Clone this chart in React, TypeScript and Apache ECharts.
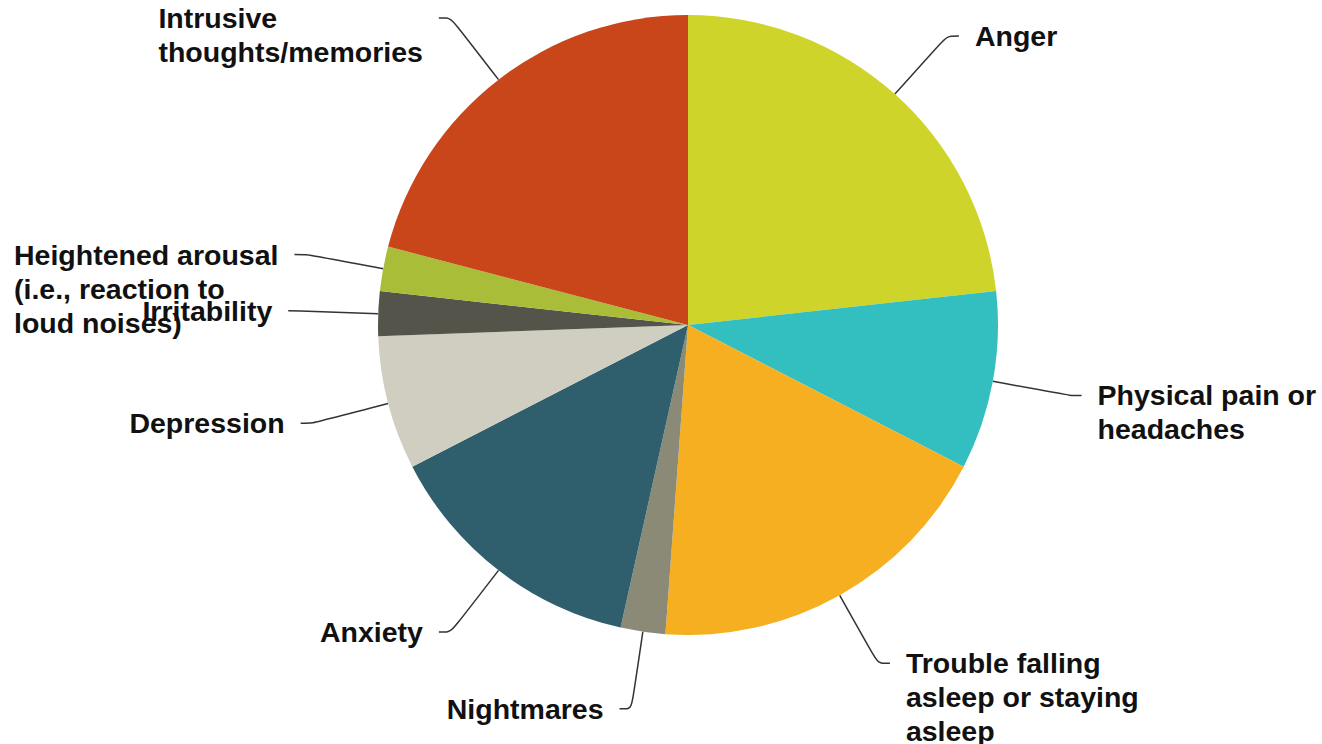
import React, { useEffect, useRef } from "react";
import * as echarts from "echarts";

const categories = [
  "Anger",
  "Physical pain or\nheadaches",
  "Trouble falling\nasleep or staying\nasleep",
  "Nightmares",
  "Anxiety",
  "Depression",
  "Irritability",
  "Heightened arousal\n(i.e., reaction to\nloud noises)",
  "Intrusive\nthoughts/memories",
];
const values = [10, 4, 8, 1, 6, 3, 1, 1, 9];
const colors = [
  "#CFD42A",
  "#33BEC0",
  "#F5AF20",
  "#8A8A77",
  "#2F5F6C",
  "#D0CEC0",
  "#55544A",
  "#A9BD38",
  "#C8461A",
];

const FONT = 28.5;
const LH = 34;

export default function App() {
  const ref = useRef<HTMLDivElement>(null);
  useEffect(() => {
    if (!ref.current) return;
    const chart = echarts.init(ref.current, undefined, { renderer: "svg" });
    chart.setOption({
      animation: false,
      backgroundColor: "#ffffff",
      series: [
        {
          type: "pie",
          center: [688, 325],
          radius: 310,
          startAngle: 90,
          clockwise: true,
          avoidLabelOverlap: false,
          labelLayout: { hideOverlap: false },
          data: categories.map((name, i) => {
            const n = name.split("\n").length;
            return {
              name,
              value: values[i],
              itemStyle: { color: colors[i] },
              label: {
                padding: [(n - 1) * LH, 0, 0, 0],
              },
            };
          }),
          label: {
            show: true,
            position: "outside",
            formatter: (p: any) =>
              p.name
                .split("\n")
                .map((s: string) => "{t|" + s + "}")
                .join("\n"),
            distanceToLabelLine: 16,
            rich: {
              t: {
                fontFamily: "Arial, 'Liberation Sans', sans-serif",
                fontWeight: "bold",
                fontSize: FONT,
                lineHeight: LH,
                color: "#111111",
                align: "left",
              },
            },
          },
          labelLine: {
            show: true,
            length: 78,
            length2: 12,
            smooth: 0.3,
            lineStyle: { color: "#333333", width: 1.5 },
          },
          emphasis: { disabled: true },
        },
      ],
    });
    return () => chart.dispose();
  }, []);
  return (
    <div
      ref={ref}
      style={{ position: "fixed", left: 0, top: 0, width: 1322, height: 744 }}
    />
  );
}
